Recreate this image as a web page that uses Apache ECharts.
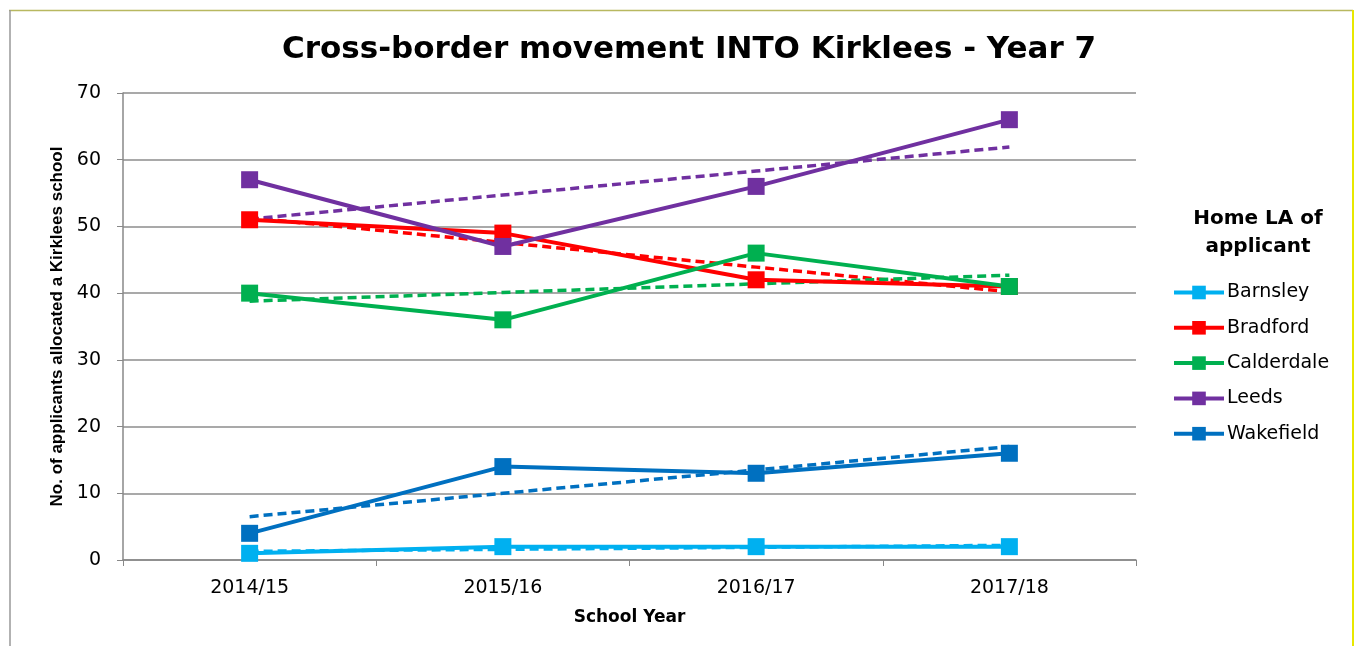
<!DOCTYPE html>
<html>
<head>
<meta charset="utf-8">
<script src="https://cdn.jsdelivr.net/npm/echarts@6/dist/echarts.min.js"></script>
<style>
  html, body { margin: 0; padding: 0; background: #fff; }
  #chart { width: 1356px; height: 646px; }
</style>
</head>
<body>
<div id="chart"></div>
<script>
// data
var years = ['2014/15', '2015/16', '2016/17', '2017/18'];
var barnsley = [1, 2, 2, 2];
var bradford = [51, 49, 42, 41];
var calderdale = [40, 36, 46, 41];
var leeds = [57, 47, 56, 66];
var wakefield = [4, 14, 13, 16];

// dashed trend lines, as drawn
var barnsleyTrend = [1.3, 1.6, 1.9, 2.2];
var bradfordTrend = [51.3, 47.6, 43.9, 40.2];
var calderdaleTrend = [38.8, 40.1, 41.4, 42.7];
var leedsTrend = [51.1, 54.7, 58.3, 61.9];
var wakefieldTrend = [6.5, 10.0, 13.5, 17.0];

var yTicks = [0, 10, 20, 30, 40, 50, 60, 70];

var names = ['Barnsley', 'Bradford', 'Calderdale', 'Leeds', 'Wakefield'];
var colors = ['#00B0F0', '#FF0000', '#00B050', '#7030A0', '#0070C0'];
var values = [barnsley, bradford, calderdale, leeds, wakefield];
var trends = [barnsleyTrend, bradfordTrend, calderdaleTrend, leedsTrend, wakefieldTrend];

var font = 'DejaVu Sans, sans-serif';

var series = [];
names.forEach(function (name, i) {
  series.push({
    name: name,
    type: 'line',
    data: values[i],
    symbol: 'rect',
    symbolSize: 17,
    color: colors[i],
    lineStyle: { width: 4, color: colors[i] },
    itemStyle: { color: colors[i] },
    z: 3
  });
});
names.forEach(function (name, i) {
  series.push({
    name: name + ' trend',
    type: 'line',
    data: trends[i],
    symbol: 'none',
    lineStyle: { width: 3.5, color: colors[i], type: [9, 5] },
    silent: true,
    z: 2
  });
});

var chart = echarts.init(document.getElementById('chart'));
var option = {
  animation: false,
  backgroundColor: '#fff',
  title: {
    text: 'Cross-border movement INTO Kirklees - Year 7',
    left: 684, top: 29, textAlign: 'center',
    textStyle: { fontFamily: font, fontSize: 31, fontWeight: 'bold', color: '#000' }
  },
  legend: {
    data: names,
    orient: 'vertical',
    left: 1172, top: 283,
    padding: 0,
    itemWidth: 50, itemHeight: 17, itemGap: 16.3,
    lineStyle: { width: 4 },
    textStyle: { fontFamily: font, fontSize: 19, color: '#000', padding: [0, 0, 0, -2] }
  },
  grid: { left: 123, right: 220, top: 93, bottom: 86 },
  xAxis: {
    type: 'category',
    data: years,
    boundaryGap: true,
    name: 'School Year',
    nameLocation: 'middle',
    nameGap: 49,
    nameTextStyle: { fontFamily: font, fontSize: 17, fontWeight: 'bold', color: '#000' },
    axisLine: { lineStyle: { color: '#888', width: 1.5 } },
    axisTick: { show: true, length: 6, lineStyle: { color: '#888' } },
    axisLabel: { fontFamily: font, fontSize: 19, color: '#000', margin: 19 }
  },
  yAxis: {
    type: 'value',
    min: 0, max: 70, interval: 10,
    name: 'No. of applicants allocated a Kirklees school',
    nameLocation: 'middle',
    nameGap: 56,
    nameTextStyle: { fontFamily: 'Liberation Sans Narrow, Liberation Sans, sans-serif', fontSize: 17, fontWeight: 'bold', color: '#000' },
    axisLine: { show: true, lineStyle: { color: '#888', width: 1.5 } },
    axisTick: { show: true, length: 6, lineStyle: { color: '#888' } },
    axisLabel: {
      fontFamily: font, fontSize: 19, color: '#000', margin: 22,
      formatter: function (v) { return yTicks.indexOf(v) >= 0 ? String(v) : ''; }
    },
    splitLine: { lineStyle: { color: '#8c8c8c', width: 1.5 } }
  },
  graphic: [
    { type: 'line', shape: { x1: 9, y1: 10.5, x2: 1353, y2: 10.5 }, style: { stroke: '#b8b860', lineWidth: 1.5 } },
    { type: 'line', shape: { x1: 10, y1: 10, x2: 10, y2: 646 }, style: { stroke: '#999', lineWidth: 1.5 } },
    { type: 'line', shape: { x1: 1353, y1: 10, x2: 1353, y2: 646 }, style: { stroke: '#e8e800', lineWidth: 2 } },
    {
      type: 'text', x: 1258, y: 205,
      style: {
        text: 'Home LA of\napplicant', align: 'center', verticalAlign: 'top',
        font: 'bold 20px ' + font, fill: '#000', lineHeight: 28
      }
    }
  ],
  series: series
};
chart.setOption(option);
</script>
</body>
</html>
